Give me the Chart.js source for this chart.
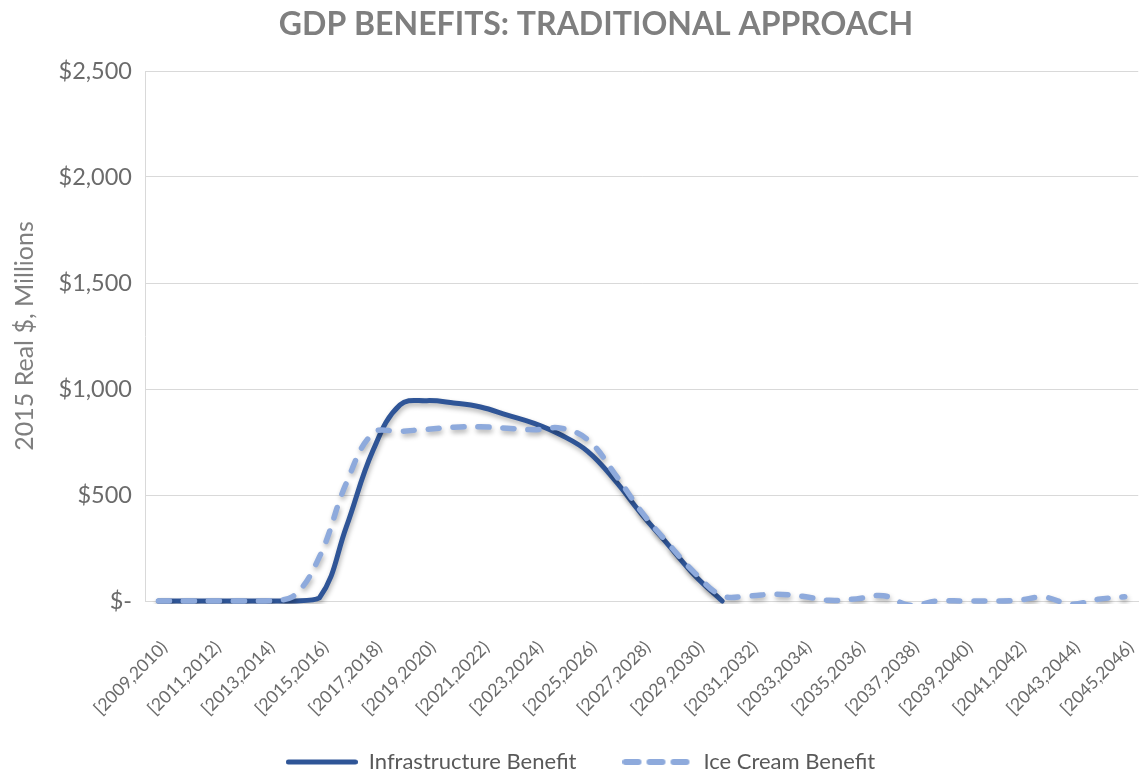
<!DOCTYPE html>
<html>
<head>
<meta charset="utf-8">
<script src="https://cdn.jsdelivr.net/npm/chart.js@4.4.1/dist/chart.umd.min.js"></script>
<style>
html,body{margin:0;padding:0;background:#ffffff;overflow:hidden;width:1143px;height:771px}
#wrap{position:relative;width:1176px;height:783px}
</style>
</head>
<body>
<div id="wrap"><canvas id="c" width="1176" height="783"></canvas></div>
<script>
// ---- data ----
const categories = [
  '[2009,2010)','[2010,2011)','[2011,2012)','[2012,2013)','[2013,2014)','[2014,2015)',
  '[2015,2016)','[2016,2017)','[2017,2018)','[2018,2019)','[2019,2020)','[2020,2021)',
  '[2021,2022)','[2022,2023)','[2023,2024)','[2024,2025)','[2025,2026)','[2026,2027)',
  '[2027,2028)','[2028,2029)','[2029,2030)','[2030,2031)','[2031,2032)','[2032,2033)',
  '[2033,2034)','[2034,2035)','[2035,2036)','[2036,2037)','[2037,2038)','[2038,2039)',
  '[2039,2040)','[2040,2041)','[2041,2042)','[2042,2043)','[2043,2044)','[2044,2045)',
  '[2045,2046)'
];
const infrastructureBenefit = [
  0, 0, 0, 0, 0, 0, 15, 350, 712, 925, 945, 934, 915, 877, 838, 783, 705, 570, 410, 264,
  118, 0, null, null, null, null, null, null, null, null, null, null, null, null, null, null, null
];
const iceCreamBenefit = [
  0, 0, 0, 0, 0, 20, 209, 556, 792, 800, 810, 820, 822, 815, 808, 815, 760, 600, 420, 270,
  130, 25, 24, 32, 22, 3, 10, 25, -20, 0, 0, 0, 3, 18, -15, 8, 20
];
const yTicks = [0, 500, 1000, 1500, 2000, 2500];
const seriesNames = ['Infrastructure Benefit', 'Ice Cream Benefit'];
const chartTitle = 'GDP BENEFITS: TRADITIONAL APPROACH';
const yAxisTitle = '2015 Real $, Millions';

// ---- styling ----
const FONT = 'Lato';
const SOLID = '#2F5597';
const LIGHT = '#8EAADC';

function makeSample(color, dashed) {
  const c = document.createElement('canvas');
  c.width = dashed ? 68 : 72;
  c.height = 10;
  const g = c.getContext('2d');
  g.strokeStyle = color;
  g.lineCap = 'round';
  g.lineWidth = dashed ? 6 : 5;
  if (dashed) g.setLineDash([13, 11]);
  g.beginPath();
  g.moveTo(dashed ? 3 : 2.5, 5);
  g.lineTo(dashed ? 64 : 69.5, 5);
  g.stroke();
  return c;
}
const legendSamples = [makeSample(SOLID, false), makeSample(LIGHT, true)];

const shadowPlugin = {
  id: 'lineShadow',
  beforeDatasetDraw(chart) {
    const ctx = chart.ctx;
    ctx.save();
    ctx.shadowColor = 'rgba(0,0,0,0.30)';
    ctx.shadowBlur = 5;
    ctx.shadowOffsetX = 1;
    ctx.shadowOffsetY = 3;
  },
  afterDatasetDraw(chart) { chart.ctx.restore(); }
};
const titlePlugin = {
  id: 'manualTitle',
  afterDraw(chart) {
    const ctx = chart.ctx;
    ctx.save();
    ctx.font = 'bold 32px ' + FONT;
    ctx.fillStyle = '#7F7F7F';
    ctx.textAlign = 'center';
    ctx.textBaseline = 'middle';
    ctx.fillText(chartTitle, 596, 25);
    ctx.restore();
  }
};

new Chart(document.getElementById('c'), {
  type: 'line',
  data: {
    labels: categories,
    datasets: [
      {
        label: seriesNames[0],
        data: infrastructureBenefit,
        borderColor: SOLID,
        backgroundColor: SOLID,
        borderWidth: 5,
        tension: 0.4,
        pointRadius: 0,
        borderCapStyle: 'round',
        borderJoinStyle: 'round',
        spanGaps: false,
        order: 1,
        clip: {left: 5, top: 5, right: 5, bottom: 3}
      },
      {
        label: seriesNames[1],
        data: iceCreamBenefit,
        borderColor: LIGHT,
        backgroundColor: LIGHT,
        borderWidth: 5.5,
        borderDash: [11, 14],
        borderCapStyle: 'round',
        borderJoinStyle: 'round',
        tension: 0.4,
        pointRadius: 0,
        order: 0,
        clip: {left: 5, top: 5, right: 5, bottom: 3}
      }
    ]
  },
  options: {
    responsive: false,
    animation: false,
    devicePixelRatio: 1,
    layout: {padding: {left: 10, right: 25, top: 71, bottom: 0}},
    plugins: {
      title: {display: false},
      legend: {
        position: 'bottom',
        labels: {
          usePointStyle: true,
          pointStyleWidth: 72,
          boxWidth: 72,
          boxHeight: 10,
          padding: 44,
          color: '#595959',
          font: {family: FONT, size: 22},
          sort: (a, b) => a.datasetIndex - b.datasetIndex,
          generateLabels: (chart) => {
            const items = Chart.defaults.plugins.legend.labels.generateLabels(chart);
            items.forEach(it => { it.pointStyle = legendSamples[it.datasetIndex]; });
            return items;
          }
        }
      },
      tooltip: {enabled: false}
    },
    scales: {
      x: {
        offset: true,
        grid: {display: false, drawTicks: false},
        border: {display: true, color: '#D9D9D9'},
        ticks: {
          autoSkip: false,
          maxRotation: 45,
          minRotation: 45,
          padding: 36,
          labelOffset: 6,
          color: '#6B6B6B',
          font: {family: FONT, size: 17.5},
          callback: function(value, index) { return index % 2 === 0 ? categories[index] : ''; }
        },
        afterFit: (s) => { s.height = 106; s._computeLabelArea = () => undefined; }
      },
      y: {
        min: 0,
        max: 2500,
        grid: {color: '#D9D9D9', lineWidth: 1, drawTicks: false},
        border: {display: true, color: '#D9D9D9'},
        afterBuildTicks: (s) => { s.ticks = yTicks.map(v => ({value: v})); },
        ticks: {
          padding: 13,
          color: '#6B6B6B',
          font: {family: FONT, size: 23.5},
          callback: (v) => v === 0 ? '$-' : '$' + Number(v).toLocaleString('en-US')
        },
        title: {
          display: true,
          text: yAxisTitle,
          color: '#7F7F7F',
          font: {family: FONT, size: 25},
          padding: {top: 0, bottom: 10}
        },
        afterFit: (s) => { s.width = 135; }
      }
    }
  },
  plugins: [shadowPlugin, titlePlugin]
});
</script>
</body>
</html>
